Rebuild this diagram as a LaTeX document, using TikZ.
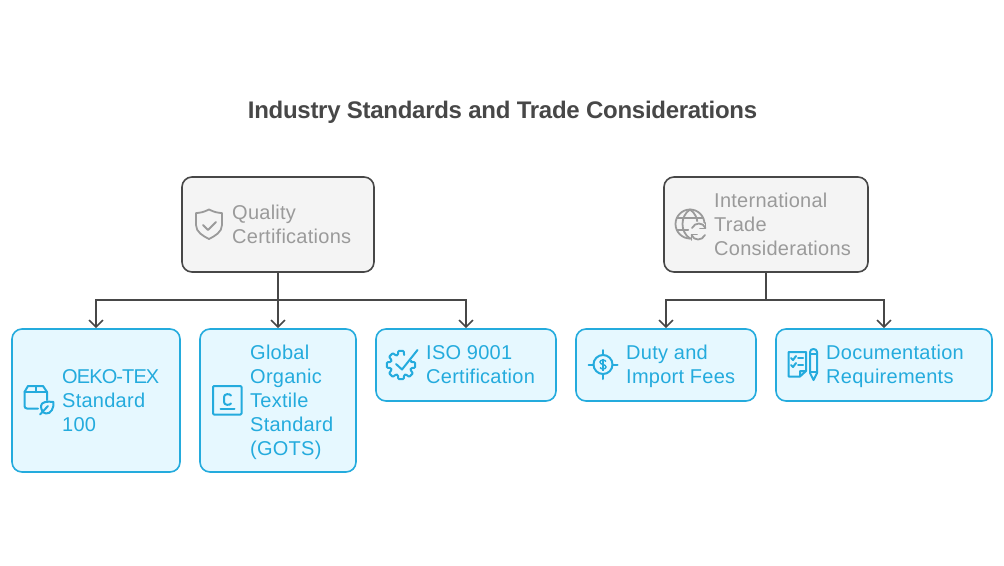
\documentclass[tikz,border=0pt]{standalone}
\usepackage{fontspec}
\setmainfont[LetterSpace=1.3]{Liberation Sans}
\usetikzlibrary{arrows.meta}
\definecolor{boxblue}{HTML}{E6F8FF}
\definecolor{lineblue}{HTML}{24ABDD}
\definecolor{boxgray}{HTML}{F4F4F4}
\definecolor{linegray}{HTML}{474747}
\definecolor{textgray}{HTML}{9A9A9A}
\tikzset{
	graybox/.style={draw=linegray, fill=boxgray, line width=1.6pt, rounded corners=10pt},
	bluebox/.style={draw=lineblue, fill=boxblue, line width=1.6pt, rounded corners=10pt},
	graytext/.style={anchor=west, inner sep=0pt, align=left, text=textgray, font=\fontsize{20}{24}\selectfont, execute at begin node=\strut, execute at end node=\strut},
	bluetext/.style={anchor=west, inner sep=0pt, align=left, text=lineblue, font=\fontsize{20}{24}\selectfont, execute at begin node=\strut, execute at end node=\strut},
	connector/.style={draw=linegray, line width=1.6pt, -{Straight Barb[length=7pt,width=14pt,line width=1.6pt]}},
	grayicon/.style={draw=textgray, line width=1.8pt, line join=round, line cap=round},
	blueicon/.style={draw=lineblue, line width=2pt, line join=round, line cap=round}
}

\begin{document}
\begin{tikzpicture}[x=1pt, y=-1pt]
			\useasboundingbox (0, 0) rectangle (1004, 565);
			%%%%% START %%%%%
			\node[inner sep=0pt, text=linegray, font=\addfontfeature{LetterSpace=-1.2}\bfseries\fontsize{24}{28}\selectfont] (title) at (502.5, 112) {Industry Standards and Trade Considerations};
			
			\node[graybox, minimum width=192pt, minimum height=95pt] (quality) at (278, 224.5) {};
			\node[graybox, minimum width=204pt, minimum height=95pt] (trade) at (766, 224.5) {};
			\node[bluebox, minimum width=168pt, minimum height=143pt] (oeko) at (96, 400.5) {};
			\node[bluebox, minimum width=156pt, minimum height=143pt] (gots) at (278, 400.5) {};
			\node[bluebox, minimum width=180pt, minimum height=72pt] (iso) at (466, 365) {};
			\node[bluebox, minimum width=180pt, minimum height=72pt] (duty) at (666, 365) {};
			\node[bluebox, minimum width=216pt, minimum height=72pt] (docs) at (884, 365) {};
			
			\node[graytext] (qualitytext) at (232, 228.2) {Quality\\Certifications};
			\node[graytext] (tradetext) at (714, 228.2) {International\\Trade\\Considerations};
			\node[bluetext] (oekotext) at (62, 404) {{\addfontfeature{LetterSpace=-4.5}OEKO-TEX}\\Standard\\100};
			\node[bluetext] (gotstext) at (250, 404) {Global\\Organic\\Textile\\Standard\\(GOTS)};
			\node[bluetext] (isotext) at (426, 368) {ISO 9001\\Certification};
			\node[bluetext] (dutytext) at (626, 368) {Duty and\\Import Fees};
			\node[bluetext] (docstext) at (826, 368) {Documentation\\Requirements};
			
			\coordinate (qualitybus) at (278, 300);
			\coordinate (tradebus) at (766, 300);
			\draw[connector] (quality.south) -- (qualitybus) -| (oeko.north);
			\draw[connector] (quality.south) -- (gots.north);
			\draw[connector] (qualitybus) -| (iso.north);
			\draw[connector] (trade.south) -- (tradebus) -| (duty.north);
			\draw[connector] (tradebus) -| (docs.north);
			
			% shield
			\draw[grayicon] (209, 209.5) .. controls (204, 212) and (200, 213) .. (196, 213) -- (196, 225) .. controls (196, 232) and (203, 236) .. (209, 239) .. controls (215, 236) and (222, 232) .. (222, 225) -- (222, 213) .. controls (218, 213) and (214, 212) .. (209, 209.5) -- cycle;
			\draw[grayicon] (203, 225) -- (208, 230) -- (216, 222);
			
			% globe
			\draw[grayicon] (690, 224) circle (14.5);
			\draw[grayicon] (690, 209.5) .. controls (680, 216) and (680, 232) .. (690, 238.5);
			\draw[grayicon] (690, 209.5) .. controls (700, 216) and (700, 232) .. (690, 238.5);
			\draw[grayicon] (677, 218) -- (703, 218);
			\draw[grayicon] (677, 230) -- (703, 230);
			\fill[boxgray] (698.5, 231.5) circle (10);
			\draw[grayicon] (692, 228) .. controls (695, 222) and (703, 222) .. (705.5, 228);
			\draw[grayicon] (705, 235) .. controls (702, 241) and (694, 241) .. (691.5, 235);
			\draw[grayicon] (705.5, 223) -- (705.5, 228.5) -- (700, 228.5);
			\draw[grayicon] (691.5, 240) -- (691.5, 234.5) -- (697, 234.5);
			
			% parcel with leaf
			\draw[blueicon] (38, 408.5) -- (27, 408.5) .. controls (25.5, 408.5) and (24.5, 407.5) .. (24.5, 406) -- (24.5, 392) -- (28, 386) -- (43, 386) -- (47, 392) -- (47, 400);
			\draw[blueicon] (24.5, 392) -- (47, 392);
			\draw[blueicon] (35.5, 386) -- (35.5, 392);
			\draw[blueicon] (41, 406) .. controls (41, 402) and (47, 401) .. (53.5, 402) .. controls (54, 408) and (51, 414) .. (46, 413.5) .. controls (43, 413) and (41, 410) .. (41, 406) -- cycle;
			\draw[blueicon] (40, 414.5) -- (48, 406);
			
			% copyright square
			\draw[blueicon, rounded corners=1pt] (213, 386) rectangle (241.5, 414.5);
			\draw[blueicon] (231, 395.5) .. controls (230, 393.5) and (224, 393.5) .. (224, 397) -- (224, 402) .. controls (224, 405.5) and (230, 405.5) .. (231, 403.5);
			\draw[blueicon] (220.5, 409) -- (234.5, 409);
			
			% gear with tick
			\draw[blueicon, rounded corners=1pt, shift={(401, 365)}] (-17:10.5)
				\foreach \ang in {0,45,90,135,180,225,270} {
					-- ({\ang-17}:10.5) -- ({\ang-11}:14.5) -- ({\ang+11}:14.5) -- ({\ang+17}:10.5)
				};
			\draw[blueicon] (396, 364) -- (402, 369.5) -- (417.5, 350);
			
			% target with dollar
			\draw[blueicon] (603, 364.5) circle (9.5);
			\draw[blueicon] (603, 350) -- (603, 355);
			\draw[blueicon] (603, 374) -- (603, 379);
			\draw[blueicon] (588.5, 364.5) -- (593.5, 364.5);
			\draw[blueicon] (612.5, 364.5) -- (617.5, 364.5);
			\draw[draw=lineblue, line width=1.4pt] (606, 361.5) .. controls (605, 359.5) and (600, 359.5) .. (600, 362) .. controls (600, 365) and (606, 364) .. (606, 367) .. controls (606, 369.5) and (601, 369.5) .. (600, 367.5);
			\draw[draw=lineblue, line width=1.4pt] (603, 358.5) -- (603, 370.5);
			
			% checklist and pen
			\draw[blueicon] (800, 376.5) -- (788.5, 376.5) -- (788.5, 352) -- (806, 352) -- (806, 371) -- (800, 376.5) -- (800, 371) -- (806, 371);
			\draw[blueicon] (791, 358) -- (793, 360) -- (796, 356);
			\draw[blueicon] (791, 365) -- (793, 367) -- (796, 363);
			\draw[blueicon] (798, 358) -- (803, 358);
			\draw[blueicon] (798, 365) -- (803, 365);
			\draw[blueicon] (810, 373) -- (810, 352) .. controls (810, 348) and (817, 348) .. (817, 352) -- (817, 373) -- (813.5, 380) -- cycle;
			\draw[blueicon] (810, 354) -- (817, 354);
			\draw[blueicon] (810, 372) -- (817, 372);
			%%%%% END %%%%%
		\end{tikzpicture}
\end{document}
